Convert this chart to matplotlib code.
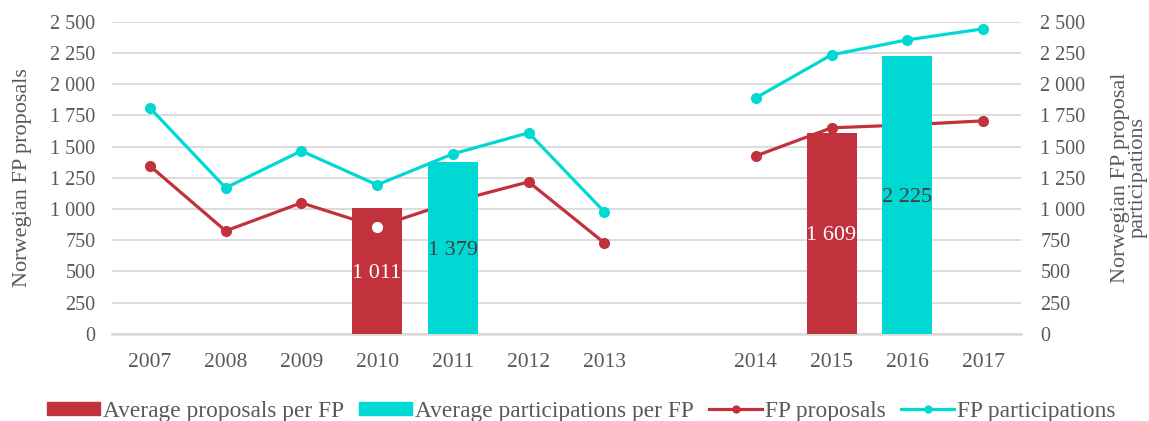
import numpy as np
import matplotlib
matplotlib.use("Agg")
import matplotlib.pyplot as plt
from matplotlib.ticker import FuncFormatter, MultipleLocator
from matplotlib.patches import Patch
from matplotlib.lines import Line2D

#---------------- data ----------------
# blank category between 2013 and 2014 leaves the gap in the x axis
years = ['2007', '2008', '2009', '2010', '2011', '2012', '2013', '',
         '2014', '2015', '2016', '2017']
fp_proposals = [1346, 825, 1050, 857, 1058, 1218, 729, np.nan,
                1426, 1651, 1675, 1707]
fp_participations = [1811, 1170, 1466, 1194, 1442, 1611, 978, np.nan,
                     1891, 2236, 2356, 2444]
avg_proposals = [np.nan, np.nan, np.nan, 1011, np.nan, np.nan, np.nan, np.nan,
                 np.nan, 1609, np.nan, np.nan]
avg_participations = [np.nan, np.nan, np.nan, np.nan, 1379, np.nan, np.nan, np.nan,
                      np.nan, np.nan, 2225, np.nan]

#---------------- style ----------------
RED = '#c1323d'
CYAN = '#00d8d3'
GREY = '#595959'
GRID = '#d9d9d9'
plt.rcParams['font.family'] = ['Liberation Serif', 'DejaVu Serif']

def space_thousands(v, pos=None):
    return '{:,.0f}'.format(v).replace(',', ' ')

fig = plt.figure(figsize=(11.49, 4.21), dpi=100)
ax = fig.add_axes([0.0975, 0.207, 0.791, 0.741])
ax2 = ax.twinx()

x = np.arange(len(years))

# lines on primary axis (behind the bars)
ax.plot(x, fp_proposals, color=RED, lw=2.3, marker='o', ms=7, zorder=3)
ax.plot(x, fp_participations, color=CYAN, lw=2.3, marker='o', ms=7, zorder=3)

# bars on secondary axis (in front)
ax2.bar(x, avg_proposals, width=0.66, color=RED, zorder=2)
ax2.bar(x, avg_participations, width=0.66, color=CYAN, zorder=2)

# proposals point hidden behind a bar shows as a white dot
for i in range(len(x)):
    if not np.isnan(avg_proposals[i]) and fp_proposals[i] < avg_proposals[i]:
        ax2.plot(x[i], fp_proposals[i], 'o', color='white', ms=7, zorder=4)

# value labels in the middle of the bars
for i in range(len(x)):
    if not np.isnan(avg_proposals[i]):
        ax2.text(x[i], avg_proposals[i] / 2 - 20, space_thousands(avg_proposals[i]),
                 ha='center', va='center', color='white', fontsize=16, zorder=5)
    if not np.isnan(avg_participations[i]):
        ax2.text(x[i], avg_participations[i] / 2 - 20, space_thousands(avg_participations[i]),
                 ha='center', va='center', color='#404040', fontsize=16, zorder=5)

for a in (ax, ax2):
    a.set_ylim(0, 2500)
    a.yaxis.set_major_locator(MultipleLocator(250))
    a.yaxis.set_major_formatter(FuncFormatter(space_thousands))
    a.tick_params(length=0, labelsize=14.5, colors=GREY)
    for s in a.spines.values():
        s.set_visible(False)
ax.set_xlim(-0.5, len(years) - 0.5)
ax.set_xticks(x)
ax.set_xticklabels(years)
ax.tick_params(axis='x', pad=14, labelsize=15.5)
ax.tick_params(axis='y', pad=12)
ax2.tick_params(axis='y', pad=14)
ax.grid(axis='y', color=GRID, lw=1.3)
ax.set_axisbelow(True)
ax.spines['bottom'].set_visible(True)
ax.spines['bottom'].set_color(GRID)
ax.spines['bottom'].set_linewidth(1.8)

ax.set_ylabel('Norwegian FP proposals', fontsize=16, color=GREY, labelpad=13)
ax2.set_ylabel('Norwegian FP proposal\nparticipations', fontsize=16, color=GREY,
               labelpad=18, linespacing=0.95)

#---------------- legend ----------------
handles = [Patch(color=RED), Patch(color=CYAN),
           Line2D([], [], color=RED, lw=2.3, marker='o', ms=5),
           Line2D([], [], color=CYAN, lw=2.3, marker='o', ms=5)]
labels = ['Average proposals per FP', 'Average participations per FP',
          'FP proposals', 'FP participations']
fig.legend(handles, labels, loc='center', ncol=4, frameon=False,
           bbox_to_anchor=(0.506, 0.023), fontsize=16.8, labelcolor=GREY,
           handlelength=2.27, handletextpad=0.13, columnspacing=0.65,
           handleheight=0.47)

fig.savefig('out.png', dpi=100)
